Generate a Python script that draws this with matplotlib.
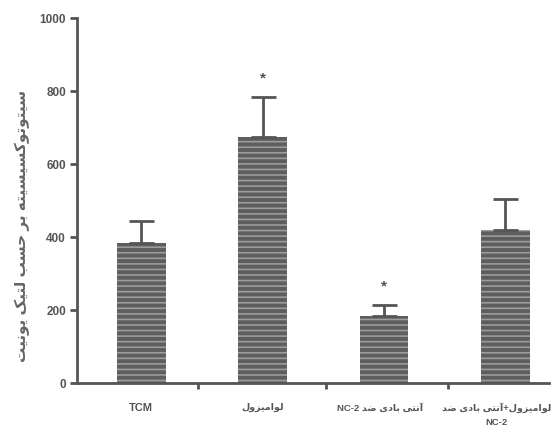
import re
import numpy as np
import matplotlib
matplotlib.use("Agg")
import matplotlib.pyplot as plt
from matplotlib.transforms import ScaledTranslation

# data
groups = ["TCM", "لوامیزول", "آنتی بادی ضد NC-2", "لوامیزول+آنتی بادی ضد\nNC-2"]
values = [385, 675, 185, 420]
errors = [60, 110, 30, 85]
stars = [False, True, True, False]
ylabel = "سیتوتوکسیسیته بر حسب لتیک یونیت"
yticks = [0, 200, 400, 600, 800, 1000]

# minimal arabic shaping (matplotlib has no complex text layout)
DUAL = {
    "ب": (0xFE8F, 0xFE90, 0xFE91, 0xFE92), "ت": (0xFE95, 0xFE96, 0xFE97, 0xFE98),
    "ح": (0xFEA1, 0xFEA2, 0xFEA3, 0xFEA4), "س": (0xFEB1, 0xFEB2, 0xFEB3, 0xFEB4),
    "ض": (0xFEBD, 0xFEBE, 0xFEBF, 0xFEC0), "ل": (0xFEDD, 0xFEDE, 0xFEDF, 0xFEE0),
    "م": (0xFEE1, 0xFEE2, 0xFEE3, 0xFEE4), "ن": (0xFEE5, 0xFEE6, 0xFEE7, 0xFEE8),
    "ه": (0xFEE9, 0xFEEA, 0xFEEB, 0xFEEC), "ک": (0xFB8E, 0xFB8F, 0xFB90, 0xFB91),
    "ی": (0xFBFC, 0xFBFD, 0xFBFE, 0xFBFF),
}
RIGHT = {
    "ا": (0xFE8D, 0xFE8E), "آ": (0xFE81, 0xFE82), "د": (0xFEA9, 0xFEAA),
    "ر": (0xFEAD, 0xFEAE), "ز": (0xFEAF, 0xFEB0), "و": (0xFEED, 0xFEEE),
}


def shape(s):
    out = []
    for i, c in enumerate(s):
        prev = s[i - 1] if i > 0 else ""
        nxt = s[i + 1] if i + 1 < len(s) else ""
        jp = prev in DUAL
        jn = nxt in DUAL or nxt in RIGHT
        if c in DUAL:
            f = DUAL[c]
            if jp and jn:
                out.append(chr(f[3]))
            elif jp:
                out.append(chr(f[1]))
            elif jn:
                out.append(chr(f[2]))
            else:
                out.append(chr(f[0]))
        elif c in RIGHT:
            out.append(chr(RIGHT[c][1] if jp else RIGHT[c][0]))
        else:
            out.append(c)
    return "".join(out)


def rtl(text):
    lines = []
    for line in text.split("\n"):
        runs = re.findall(r"[A-Za-z0-9\-]+|[^A-Za-z0-9\-]+", line)
        vis = []
        for r in reversed(runs):
            if re.match(r"[A-Za-z0-9\-]", r):
                vis.append(r)
            else:
                vis.append(shape(r)[::-1])
        lines.append("".join(vis))
    return "\n".join(lines)


grey = "#555555"
plt.rcParams["font.family"] = ["Liberation Sans", "DejaVu Sans"]
plt.rcParams["hatch.linewidth"] = 1.2
plt.rcParams["hatch.color"] = "#9c9c9c"

fig = plt.figure(figsize=(5.52, 4.43), dpi=100)
ax = fig.add_axes([0.1395, 0.135, 0.855, 0.824])

x = np.arange(len(values))
ax.bar(x, values, width=0.4, color="#5e5e5e", edgecolor="#9c9c9c",
       hatch="---", linewidth=0)
ax.errorbar(x, values, yerr=[np.zeros(len(errors)), errors], fmt="none",
            ecolor=grey, elinewidth=2, capsize=9, capthick=2)
for xi, v, e, s in zip(x, values, errors, stars):
    if s:
        ax.text(xi, v + e + 30, "*", ha="center", va="bottom",
                fontsize=11, color=grey, fontweight="bold")

ax.set_xlim(-0.53, 3.36)
ax.set_ylim(0, 1000)
ax.set_yticks(yticks)
ax.set_yticklabels([str(t) for t in yticks], fontsize=8.5, fontweight="bold", color=grey)
ax.set_xticks(x)
ax.set_xticklabels([rtl(g) for g in groups], fontsize=6.8, fontweight="bold",
                   color=grey, linespacing=1.7)
ax.get_xticklabels()[0].set_fontsize(8)
ax.set_xticks([0.47, 1.52, 2.53], minor=True)
ax.tick_params(axis="x", which="major", length=0, pad=14)
ax.tick_params(axis="x", which="minor", length=4, width=2, color=grey)
ax.tick_params(axis="y", length=5, width=2, color=grey, pad=3)

# nudge the two long labels apart, the last one sits near the right edge
shifts = {2: -3, 3: -6}
labels = ax.get_xticklabels()
for i, dx in shifts.items():
    lab = labels[i]
    lab.set_transform(lab.get_transform() + ScaledTranslation(dx / 72, 0, fig.dpi_scale_trans))

for side in ["top", "right"]:
    ax.spines[side].set_visible(False)
for side in ["left", "bottom"]:
    ax.spines[side].set_linewidth(2)
    ax.spines[side].set_color(grey)

ax.set_ylabel(rtl(ylabel), fontsize=11, fontweight="bold", color="#666666")
ax.yaxis.set_label_coords(-0.10, 0.43)

fig.savefig("out.png", dpi=100)
